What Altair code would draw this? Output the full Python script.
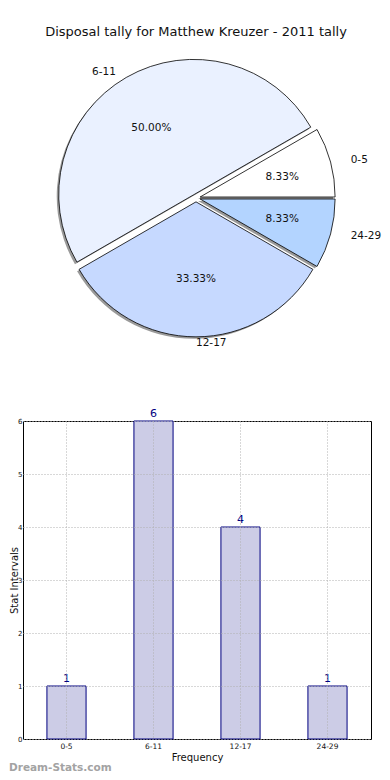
import math
import altair as alt
import pandas as pd

# ---- data -------------------------------------------------------------
categories = ["0-5", "6-11", "12-17", "24-29"]
counts = [1, 6, 4, 1]
pie_colors = ["#ffffff", "#eaf1ff", "#c6d9ff", "#b3d4ff"]
label_side = ["left", "right", "left", "left"]
y_ticks = [0, 1, 2, 3, 4, 5, 6]

title_text = "Disposal tally for Matthew Kreuzer - 2011 tally"
x_title = "Frequency"
y_title = "Stat Intervals"
watermark = "Dream-Stats.com"

df = pd.DataFrame({
    "cat": categories,
    "count": counts,
    "order": list(range(len(categories))),
    "side": label_side,
})

FONT = "DejaVu Sans"
TOTAL = sum(counts)

# ---- pie panel geometry (in "radius units") ---------------------------
PW, PH = 346, 344
RX, RY = 141.7, 128.3
R_ARC = 135
CXP, CYP = 173, 155
EXPLODE = 0.03
xs = alt.Scale(domain=[-CXP / RX, (PW - CXP) / RX], nice=False, zero=False)
ys = alt.Scale(domain=[-(PH - CYP) / RY, CYP / RY], nice=False, zero=False)
theta_scale = alt.Scale(domain=[0, TOTAL], range=[2.5 * math.pi, 0.5 * math.pi])

base = (
    alt.Chart(df)
    .transform_joinaggregate(total="sum(count)")
    .transform_window(cum="sum(count)", sort=[alt.SortField("order")], frame=[None, 0])
    .transform_calculate(start="datum.cum - datum.count")
    .transform_calculate(frac="datum.count / datum.total")
    .transform_calculate(mid="2 * PI * (datum.cum - datum.count / 2) / datum.total")
    .transform_calculate(ex=f"{EXPLODE} * cos(datum.mid)")
    .transform_calculate(ey=f"{EXPLODE} * sin(datum.mid)")
    .transform_calculate(px=f"({EXPLODE} + 0.6) * cos(datum.mid)")
    .transform_calculate(py=f"({EXPLODE} + 0.6) * sin(datum.mid)")
    .transform_calculate(lx=f"({EXPLODE} + 1.1) * cos(datum.mid)")
    .transform_calculate(ly=f"({EXPLODE} + 1.1) * sin(datum.mid)")
)

arc_enc = dict(
    x=alt.X("ex:Q", scale=xs, axis=None),
    y=alt.Y("ey:Q", scale=ys, axis=None),
    theta=alt.Theta("cum:Q", scale=theta_scale, stack=False),
    theta2="start:Q",
)

shadow = base.mark_arc(outerRadius=R_ARC, color="#9a9a9a", xOffset=-2, yOffset=2).encode(**arc_enc)
arcs = base.mark_arc(outerRadius=R_ARC, stroke="black", strokeWidth=0.8).encode(
    color=alt.Color("cat:N", scale=alt.Scale(domain=categories, range=pie_colors), legend=None),
    **arc_enc,
)
pct = base.mark_text(font=FONT, fontSize=10.5, color="#111111").encode(
    x=alt.X("px:Q", scale=xs, axis=None),
    y=alt.Y("py:Q", scale=ys, axis=None),
    text=alt.Text("frac:Q", format=".2%"),
)
lab_left = base.transform_filter("datum.side == 'left'").mark_text(
    font=FONT, fontSize=10.5, color="#111111", align="left"
).encode(
    x=alt.X("lx:Q", scale=xs, axis=None),
    y=alt.Y("ly:Q", scale=ys, axis=None),
    text="cat:N",
)
lab_right = base.transform_filter("datum.side == 'right'").mark_text(
    font=FONT, fontSize=10.5, color="#111111", align="right"
).encode(
    x=alt.X("lx:Q", scale=xs, axis=None),
    y=alt.Y("ly:Q", scale=ys, axis=None),
    text="cat:N",
)

pie = alt.layer(shadow, arcs, pct, lab_left, lab_right).properties(
    width=PW,
    height=PH,
    title=alt.TitleParams(title_text, font=FONT, fontSize=13, fontWeight="normal",
                          color="#111111", offset=4),
    view=alt.ViewBackground(strokeWidth=0),
)

# ---- bar panel ----------------------------------------------------------
BW, BH = 348, 318
bar_base = alt.Chart(df).encode(
    x=alt.X(
        "cat:N",
        sort=categories,
        scale=alt.Scale(paddingInner=0.55, paddingOuter=0.275),
        axis=alt.Axis(
            title=x_title, titleFont=FONT, titleFontSize=10, titleFontWeight="normal",
            titleColor="#111111", titlePadding=3,
            labelAngle=0, labelFont=FONT, labelFontSize=7.5, labelColor="#111111",
            labelPadding=3, ticks=False, domain=False,
            grid=True, gridColor="#b0b0b0", gridDash=[1, 2], gridWidth=1, zindex=1,
        ),
    ),
    y=alt.Y(
        "count:Q",
        scale=alt.Scale(domain=[0, max(counts)], nice=False),
        axis=alt.Axis(
            title=y_title, titleFont=FONT, titleFontSize=10, titleFontWeight="normal",
            titleColor="#111111", titleX=-6, titleY=BH / 2, titleBaseline="alphabetic",
            titleAngle=270,
            values=y_ticks, format="d", labelFont=FONT, labelFontSize=7,
            labelColor="#111111", labelPadding=1, ticks=False, domain=False,
            grid=True, gridColor="#b0b0b0", gridDash=[1, 2], gridWidth=1, zindex=1,
        ),
    ),
)
bars = bar_base.mark_bar(fill="#cccce6", stroke="#000080", strokeWidth=1)
bar_text = bar_base.mark_text(font=FONT, fontSize=11, color="#000080",
                              baseline="bottom", dy=-2).encode(text="count:Q")

barchart = alt.layer(bars, bar_text).properties(
    width=BW,
    height=BH,
    view=alt.ViewBackground(stroke="black", strokeWidth=1),
    title=alt.TitleParams(watermark, orient="bottom", anchor="start", font=FONT,
                          fontSize=10.5, fontWeight="bold", color="#a3a3a3", offset=0),
)

chart = (
    alt.vconcat(pie, barchart, spacing=20)
    .properties(padding={"left": 0, "top": 18, "right": 0, "bottom": 0})
    .configure_view(strokeWidth=0)
)

chart.save("out.html", embed_options={"renderer": "svg", "actions": False})
